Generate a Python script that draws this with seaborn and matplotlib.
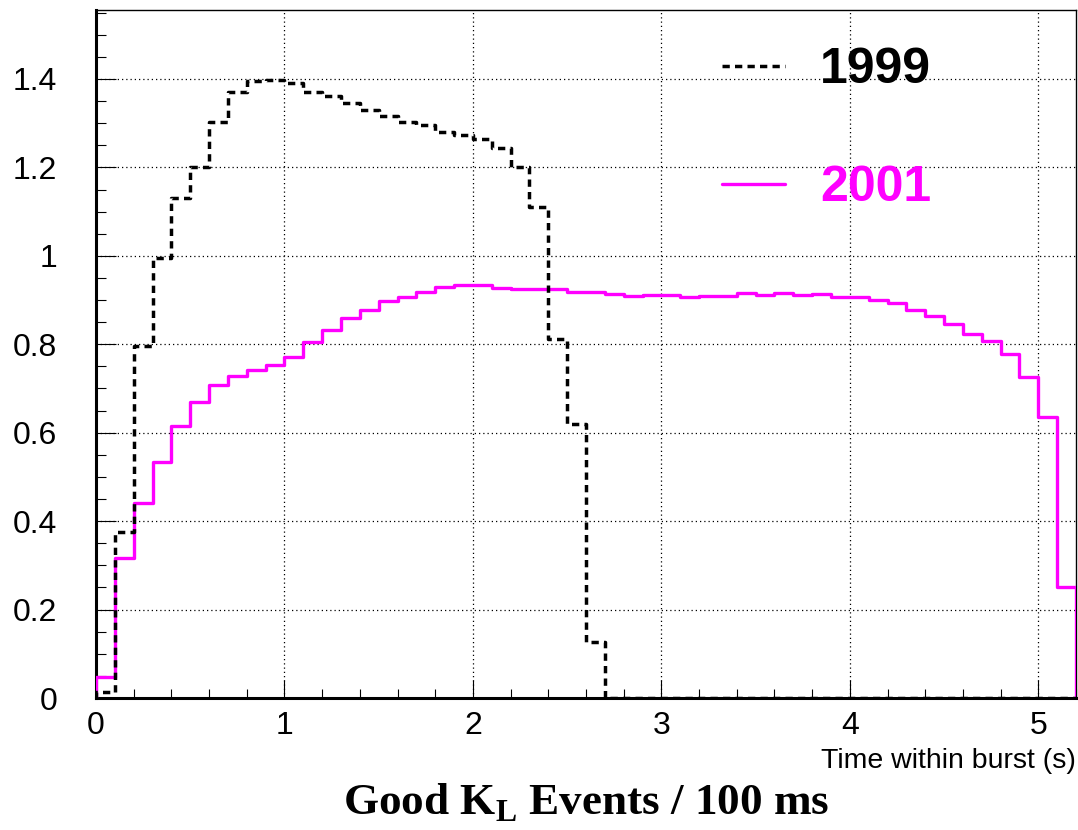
import numpy as np
import pandas as pd
import matplotlib
matplotlib.use("Agg")
import matplotlib.pyplot as plt
from matplotlib.ticker import FixedLocator, MultipleLocator
import seaborn as sns

# Good K_L events per 100 ms bin, 0 - 5.2 s into the spill
bin_width = 0.1
n_bins = 52

rate_1999 = [0.014, 0.375, 0.795, 0.994, 1.131, 1.202, 1.302, 1.370, 1.395, 1.398,
             1.392, 1.370, 1.362, 1.345, 1.330, 1.317, 1.303, 1.295, 1.281, 1.273,
             1.264, 1.243, 1.200, 1.111, 0.813, 0.620, 0.126] + [0.0] * 25

rate_2001 = [0.048, 0.316, 0.440, 0.534, 0.615, 0.670, 0.709, 0.729, 0.742, 0.754,
             0.772, 0.805, 0.833, 0.859, 0.878, 0.897, 0.906, 0.919, 0.930, 0.934,
             0.935, 0.928, 0.926, 0.925, 0.924, 0.918, 0.918, 0.914, 0.909, 0.912,
             0.912, 0.907, 0.910, 0.910, 0.916, 0.911, 0.916, 0.912, 0.913, 0.908,
             0.906, 0.899, 0.894, 0.878, 0.863, 0.846, 0.824, 0.807, 0.777, 0.726,
             0.636, 0.251]

series_labels = ["1999", "2001"]
series_colors = {"1999": "black", "2001": "#ff00ff"}

x_tick_values = [0, 1, 2, 3, 4, 5]
y_tick_values = [0, 0.2, 0.4, 0.6, 0.8, 1.0, 1.2, 1.4]
y_tick_labels = ["0", "0.2", "0.4", "0.6", "0.8", "1", "1.2", "1.4"]

sns.set_theme(style="white", rc={
    "axes.edgecolor": "black",
    "xtick.color": "black",
    "ytick.color": "black",
    "text.color": "black",
    "axes.labelcolor": "black",
})
plt.rcParams["font.family"] = ["Liberation Sans", "DejaVu Sans"]
plt.rcParams["mathtext.fontset"] = "custom"
plt.rcParams["mathtext.bf"] = "Liberation Serif:bold"
plt.rcParams["mathtext.rm"] = "Liberation Serif:bold"

edges = np.arange(n_bins + 1) * bin_width


def outline(values):
    """Histogram outline (ROOT style): drops to zero at both ends."""
    x = np.repeat(edges, 2)
    y = np.concatenate([[0.0], np.repeat(np.asarray(values, float), 2), [0.0]])
    return pd.DataFrame({"time": x, "rate": y})


fig = plt.figure(figsize=(10.78, 8.30), dpi=100)
ax = fig.add_axes([96 / 1078, 1 - 698 / 830, 980 / 1078, 688 / 830])

sns.lineplot(data=outline(rate_2001), x="time", y="rate", sort=False, estimator=None,
             color=series_colors["2001"], linewidth=2.4, label="2001", ax=ax, zorder=3)
sns.lineplot(data=outline(rate_1999), x="time", y="rate", sort=False, estimator=None,
             color=series_colors["1999"], linewidth=2.5, linestyle=(0, (2.1, 1.5)),
             label="1999", ax=ax, zorder=4)

ax.set_xlim(0, 5.2)
ax.set_ylim(0, 1.556)
ax.set_xlabel("")
ax.set_ylabel("")

ax.xaxis.set_major_locator(FixedLocator(x_tick_values))
ax.xaxis.set_minor_locator(MultipleLocator(0.2))
ax.yaxis.set_major_locator(FixedLocator(y_tick_values))
ax.yaxis.set_minor_locator(MultipleLocator(0.05))
ax.set_yticklabels(y_tick_labels)

ax.tick_params(which="both", direction="in", top=False, right=False,
               bottom=True, left=True, color="black", width=0.8)
ax.tick_params(axis="y", which="major", length=14.4, pad=28, labelsize=23)
ax.tick_params(axis="y", which="minor", length=7.2)
ax.tick_params(axis="x", which="major", length=13, pad=9, labelsize=23)
ax.tick_params(axis="x", which="minor", length=6.5)

ax.grid(True, which="major", color="black", linewidth=0.9, linestyle=(0, (1.0, 2.4)))
ax.set_axisbelow(True)

for side in ["left", "bottom"]:
    ax.spines[side].set_linewidth(2.2)
for side in ["top", "right"]:
    ax.spines[side].set_linewidth(1.0)
for sp in ax.spines.values():
    sp.set_color("black")

handles, labels = ax.get_legend_handles_labels()
order = [labels.index(s) for s in series_labels]
ax.legend([handles[i] for i in order], [labels[i] for i in order],
          loc="upper left", bbox_to_anchor=(0.639, 0.946), frameon=False,
          prop={"family": "Liberation Sans", "weight": "bold", "size": 36},
          handlelength=1.26, handletextpad=0.7, labelspacing=1.44,
          borderpad=0, borderaxespad=0, labelcolor="linecolor")

fig.text(1076 / 1078, 1 - 768 / 830, "Time within burst (s)",
         ha="right", va="baseline", fontsize=20.5)
fig.text(586 / 1078, 1 - 815 / 830, r"Good K$_\mathbf{L}$ Events / 100 ms",
         family="Liberation Serif", weight="bold", fontsize=32.5,
         ha="center", va="baseline")

fig.savefig("out.png", dpi=100)
